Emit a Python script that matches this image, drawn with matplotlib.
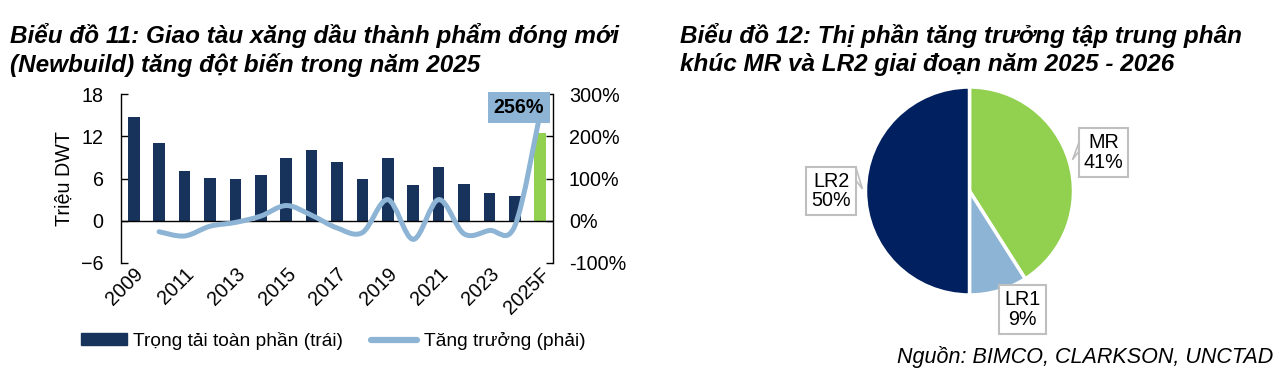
import matplotlib
matplotlib.use("Agg")
import matplotlib.pyplot as plt
from matplotlib.path import Path
from matplotlib.patches import PathPatch, Patch, Polygon
from matplotlib.lines import Line2D

plt.rcParams['font.family'] = ['Liberation Sans', 'DejaVu Sans']

# --- data: chart 11 ---
years = ["2009", "2010", "2011", "2012", "2013", "2014", "2015", "2016", "2017",
         "2018", "2019", "2020", "2021", "2022", "2023", "2024", "2025F"]
tonnage = [14.8, 11.0, 7.0, 6.1, 5.9, 6.5, 8.9, 10.0, 8.3,
           6.0, 8.9, 5.1, 7.6, 5.2, 4.0, 3.5, 12.5]
growth_years = years[1:]
growth = [-26, -36, -13, -4, 11, 36, 13, -17, -28, 50, -44, 50, -31, -23, -12, 256]

# --- data: chart 12 ---
segments = ["MR", "LR1", "LR2"]
shares = [41, 9, 50]

NAVY = "#17335C"
GREEN = "#92D050"
LIGHT = "#8DB4D5"
PIE_NAVY = "#002060"
FS = 14.2


def smooth_path(xs, ys):
    """catmull-rom style bezier through the points (like excel smoothed line)"""
    n = len(xs)
    verts = [(xs[0], ys[0])]
    codes = [Path.MOVETO]
    for i in range(n - 1):
        i0, i3 = max(i - 1, 0), min(i + 2, n - 1)
        c1 = (xs[i] + (xs[i + 1] - xs[i0]) / 6, ys[i] + (ys[i + 1] - ys[i0]) / 6)
        c2 = (xs[i + 1] - (xs[i3] - xs[i]) / 6, ys[i + 1] - (ys[i3] - ys[i]) / 6)
        verts += [c1, c2, (xs[i + 1], ys[i + 1])]
        codes += [Path.CURVE4] * 3
    return Path(verts, codes)


fig = plt.figure(figsize=(12.81, 3.85), dpi=100)

# titles
title_kw = dict(fontsize=17.5, fontweight="bold", fontstyle="italic", va="baseline")
fig.text(10 / 1281, 1 - 43 / 385, "Biểu đồ 11: Giao tàu xăng dầu thành phẩm đóng mới", **title_kw)
fig.text(10 / 1281, 1 - 72 / 385, "(Newbuild) tăng đột biến trong năm 2025", **title_kw)
fig.text(680 / 1281, 1 - 43 / 385, "Biểu đồ 12: Thị phần tăng trưởng tập trung phân", **title_kw)
fig.text(680 / 1281, 1 - 71 / 385, "khúc MR và LR2 giai đoạn năm 2025 - 2026", **title_kw)

# --- bar + line chart ---
ax = fig.add_axes([121 / 1281, 122 / 385, 432 / 1281, 169 / 385])
x = list(range(len(years)))
bar_colors = [NAVY] * (len(years) - 1) + [GREEN]
ax.bar(x, tonnage, width=0.46, color=bar_colors, zorder=2)
ax.axhline(0, color="black", lw=1, zorder=3)
ax.set_xlim(-0.5, len(years) - 0.5)
ax.set_ylim(-6, 18)
ax.set_yticks([-6, 0, 6, 12, 18])
ax.set_xticks(x[::2])
ax.set_xticklabels(years[::2], rotation=45, ha="right", va="top", rotation_mode="anchor")
ax.tick_params(axis="x", length=0, pad=1, labelsize=FS)
ax.tick_params(axis="y", direction="in", length=5, width=1, pad=12.5, labelsize=FS)
for s in ["top", "bottom", "right"]:
    ax.spines[s].set_visible(False)
ax.spines["left"].set_linewidth(1)
ax.set_ylabel("Triệu DWT", fontsize=FS, labelpad=5)

ax2 = ax.twinx()
ax2.set_ylim(-100, 300)
ax2.set_yticks([-100, 0, 100, 200, 300])
ax2.set_yticklabels(["-100%", "0%", "100%", "200%", "300%"])
ax2.tick_params(axis="y", direction="in", length=5, width=1, pad=11.5, labelsize=FS)
for s in ["top", "bottom", "left"]:
    ax2.spines[s].set_visible(False)
ax2.spines["right"].set_linewidth(1)
gx = [years.index(y) for y in growth_years]
ax2.add_patch(PathPatch(smooth_path(gx, growth), fc="none", ec=LIGHT, lw=3.6,
                        capstyle="round", zorder=4))
ax2.text(gx[-1] - 0.85, growth[-1] + 12, f"{growth[-1]}%", fontsize=FS, fontweight="bold",
         ha="center", va="center", zorder=6,
         bbox=dict(boxstyle="square,pad=0.3", fc=LIGHT, ec="none"))

handles = [Patch(color=NAVY), Line2D([0], [0], color=LIGHT, lw=4.5, solid_capstyle="round")]
fig.legend(handles, ["Trọng tải toàn phần (trái)", "Tăng trưởng (phải)"],
           loc="center", bbox_to_anchor=(333 / 1281, 1 - 341 / 385), ncol=2,
           frameon=False, fontsize=13.8, handlelength=2.4, handletextpad=0.35,
           columnspacing=1.45, handleheight=0.55)

# --- pie chart ---
pax = fig.add_axes([865.5 / 1281, 90 / 385, 208 / 1281, 208 / 385])
pax.pie(shares, colors=[GREEN, LIGHT, PIE_NAVY], startangle=90, counterclock=False,
        wedgeprops=dict(edgecolor="white", linewidth=2.5))
pax.set_xlim(-1, 1)
pax.set_ylim(-1, 1)
pax.set_aspect("equal")

label_pos = {"MR": (1.29, 0.37), "LR1": (0.51, -1.14), "LR2": (-1.33, 0.0)}
for name, val in zip(segments, shares):
    lx, ly = label_pos[name]
    pax.text(lx, ly, f"{name}\n{val}%", fontsize=FS, ha="center", va="center",
             linespacing=1.05, clip_on=False, zorder=6,
             bbox=dict(boxstyle="square,pad=0.25", fc="white", ec="#BFBFBF", lw=1.5))

# small callout pointers
pax.add_patch(Polygon([(-1.09, 0.22), (-1.03, 0.02), (-1.09, 0.10)], closed=True,
                      fc="white", ec="#BFBFBF", lw=1.2, clip_on=False, zorder=7))
pax.add_patch(Polygon([(1.05, 0.46), (0.99, 0.30), (1.05, 0.38)], closed=True,
                      fc="white", ec="#BFBFBF", lw=1.2, clip_on=False, zorder=7))

fig.text(1273 / 1281, 1 - 357 / 385, "Nguồn: BIMCO, CLARKSON, UNCTAD", fontsize=15.5,
         fontstyle="italic", ha="right", va="center")

plt.savefig("out.png", dpi=100)
